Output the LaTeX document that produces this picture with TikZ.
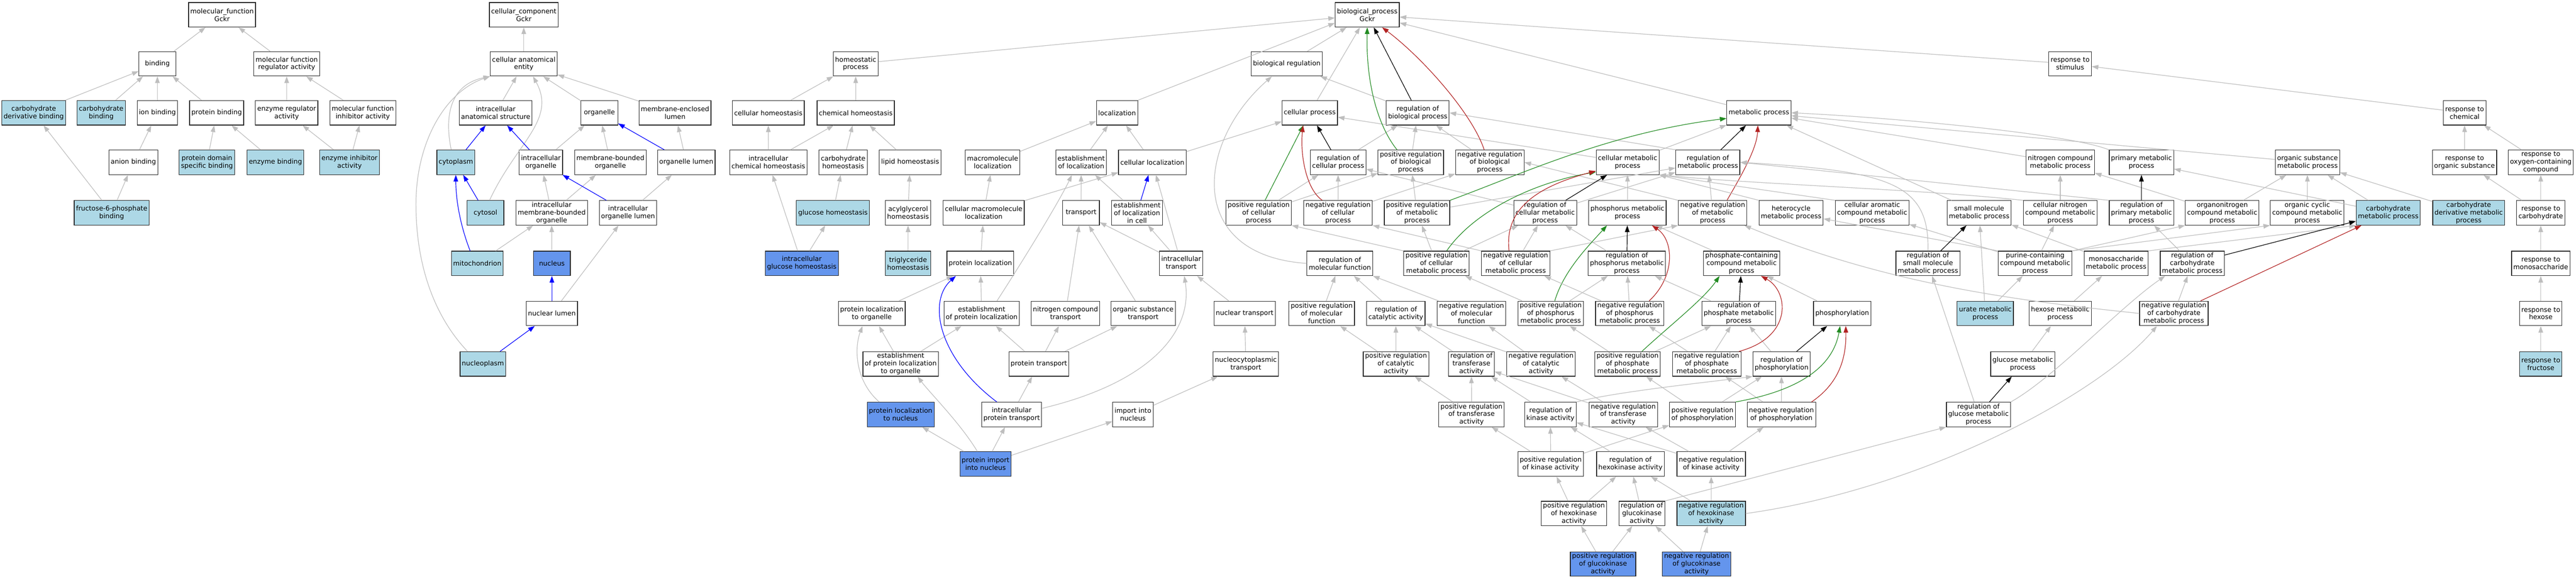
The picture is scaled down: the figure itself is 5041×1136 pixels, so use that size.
\documentclass[tikz,border=0pt]{standalone}
\usepackage{fontspec}
\setmainfont{DejaVu Sans}
\usetikzlibrary{arrows.meta}
\definecolor{hitblue}{RGB}{173,216,230}
\definecolor{seedblue}{RGB}{100,149,237}
\definecolor{isagrey}{RGB}{190,190,190}
\definecolor{posgreen}{RGB}{34,139,34}
\definecolor{negred}{RGB}{178,34,34}
\tikzstyle{termnode}=[draw=black!85, line width=1.2pt, fill=white, rectangle,
					align=center, minimum width=72pt, minimum height=48pt,
					inner xsep=3.5pt, inner ysep=1pt, font=\fontsize{13}{15}\selectfont]

\begin{document}
\begin{tikzpicture}[x=1pt, y=-1pt,
 hitnode/.style={termnode, fill=hitblue},
 seednode/.style={termnode, fill=seedblue},
 isaline/.style={draw=isagrey, line width=1.2pt, -{Triangle[length=13pt, width=9pt]}},
 partline/.style={isaline, draw=blue},
 regline/.style={isaline, draw=black},
 posline/.style={isaline, draw=posgreen},
 negline/.style={isaline, draw=negred},
 ]
 \fill[white] (0,0) rectangle (5041,1136);
 \useasboundingbox (0,0) rectangle (5041,1136);

 %Nodes - molecular function
 \node[termnode] (mf_node)     at (434.5,29)  {molecular\_function\\Gckr};
 \node[termnode] (binding_node) at (308,125)  {binding};
 \node[termnode] (mfra_node)   at (561,125)   {molecular function\\regulator activity};
 \node[hitnode]  (cdb_node)    at (66,221)    {carbohydrate\\derivative binding};
 \node[hitnode]  (cb_node)     at (198,221)   {carbohydrate\\binding};
 \node[termnode] (ionb_node)   at (308,221)   {ion binding};
 \node[termnode] (pb_node)     at (424,221)   {protein binding};
 \node[termnode] (era_node)    at (561,221)   {enzyme regulator\\activity};
 \node[termnode] (mfia_node)   at (710,221)   {molecular function\\inhibitor activity};
 \node[termnode] (anionb_node) at (261,318)   {anion binding};
 \node[hitnode]  (pdsb_node)   at (405,318)   {protein domain\\specific binding};
 \node[hitnode]  (eb_node)     at (539,318)   {enzyme binding};
 \node[hitnode]  (eia_node)    at (684,318)   {enzyme inhibitor\\activity};
 \node[hitnode]  (f6pb_node)   at (218.5,417) {fructose-6-phosphate\\binding};

 %Nodes - cellular component
 \node[termnode] (cc_node)          at (1025,29)    {cellular\_component\\Gckr};
 \node[termnode] (cae_node)         at (1025,125)   {cellular anatomical\\entity};
 \node[termnode] (ias_node)         at (970,221)    {intracellular\\anatomical structure};
 \node[termnode] (organelle_node)   at (1173,221)   {organelle};
 \node[termnode] (mel_node)         at (1321,221)   {membrane-enclosed\\lumen};
 \node[hitnode]  (cytoplasm_node)   at (892,318)    {cytoplasm};
 \node[termnode] (io_node)          at (1058.5,318) {intracellular\\organelle};
 \node[termnode] (mbo_node)         at (1194.5,318) {membrane-bounded\\organelle};
 \node[termnode] (ol_node)          at (1343,318)   {organelle lumen};
 \node[hitnode]  (cytosol_node)     at (950,417)    {cytosol};
 \node[termnode] (imbo_node)        at (1079.5,417) {intracellular\\membrane-bounded\\organelle};
 \node[termnode] (iol_node)         at (1229,417)   {intracellular\\organelle lumen};
 \node[hitnode]  (mito_node)        at (934,516)    {mitochondrion};
 \node[seednode] (nucleus_node)     at (1080,516)   {nucleus};
 \node[termnode] (nl_node)          at (1080,614)   {nuclear lumen};
 \node[hitnode]  (nucleoplasm_node) at (945,713)    {nucleoplasm};

 %Nodes - homeostasis
 \node[termnode] (hp_node)    at (1674.5,125) {homeostatic\\process};
 \node[termnode] (ch_node)    at (1503.5,221) {cellular homeostasis};
 \node[termnode] (chemh_node) at (1674.6,221) {chemical homeostasis};
 \node[termnode] (ich_node)   at (1503.6,318) {intracellular\\chemical homeostasis};
 \node[termnode] (carbh_node) at (1650,318)   {carbohydrate\\homeostasis};
 \node[termnode] (lh_node)    at (1781,318)   {lipid homeostasis};
 \node[hitnode]  (gh_node)    at (1630,417)   {glucose homeostasis};
 \node[termnode] (ah_node)    at (1777,417)   {acylglycerol\\homeostasis};
 \node[seednode] (igh_node)   at (1569,516)   {intracellular\\glucose homeostasis};
 \node[hitnode]  (th_node)    at (1777,516)   {triglyceride\\homeostasis};

 %Nodes - localization
 \node[termnode] (loc_node)       at (2186,221)    {localization};
 \node[termnode] (ml_node)        at (1942.5,318)  {macromolecule\\localization};
 \node[termnode] (eol_node)       at (2115.7,318)  {establishment\\of localization};
 \node[termnode] (cl_node)        at (2255,318)    {cellular localization};
 \node[termnode] (cml_node)       at (1925,417)    {cellular macromolecule\\localization};
 \node[termnode] (transport_node) at (2115.5,417)  {transport};
 \node[termnode] (eslic_node)     at (2225,417)    {establishment\\of localization\\in cell};
 \node[termnode] (pl_node)        at (1918.5,516)  {protein localization};
 \node[termnode] (it_node)        at (2311.5,516)  {intracellular\\transport};
 \node[termnode] (plo_node)       at (1706,614)    {protein localization\\to organelle};
 \node[termnode] (epl_node)       at (1921,614)    {establishment\\of protein localization};
 \node[termnode] (nct_node)       at (2085,614)    {nitrogen compound\\transport};
 \node[termnode] (ost_node)       at (2237,614)    {organic substance\\transport};
 \node[termnode] (nt_node)        at (2435.6,614)  {nuclear transport};
 \node[termnode] (eplo_node)      at (1762.5,713)  {establishment\\of protein localization\\to organelle};
 \node[termnode] (pt_node)        at (2033,713)    {protein transport};
 \node[termnode] (nctr_node)      at (2438,713)    {nucleocytoplasmic\\transport};
 \node[seednode] (pln_node)       at (1762.5,812)  {protein localization\\to nucleus};
 \node[termnode] (ipt_node)       at (1979.7,812)  {intracellular\\protein transport};
 \node[termnode] (iin_node)       at (2217,812)    {import into\\nucleus};
 \node[seednode] (pipn_node)      at (1928.6,909)  {protein import\\into nucleus};

 %Nodes - biological process
 \node[termnode] (bp_node)    at (2675.6,29)  {biological\_process\\Gckr};
 \node[termnode] (br_node)    at (2518,125)   {biological regulation};
 \node[termnode] (cp_node)    at (2563,221)   {cellular process};
 \node[termnode] (rbp_node)   at (2774.4,221) {regulation of\\biological process};
 \node[termnode] (rcp_node)   at (2618.6,318) {regulation of\\cellular process};
 \node[termnode] (prbp_node)  at (2760.8,318) {positive regulation\\of biological\\process};
 \node[termnode] (nrbp_node)  at (2915.4,318) {negative regulation\\of biological\\process};
 \node[termnode] (cmp_node)   at (3185,318)   {cellular metabolic\\process};
 \node[termnode] (rmp_node)   at (3342,318)   {regulation of\\metabolic process};
 \node[termnode] (prcp_node)  at (2463,417)   {positive regulation\\of cellular\\process};
 \node[termnode] (ncp_node)   at (2618.5,417) {negative regulation\\of cellular\\process};
 \node[termnode] (prmp_node)  at (2773,417)   {positive regulation\\of metabolic\\process};
 \node[termnode] (rcmp_node)  at (3023.7,417) {regulation of\\cellular metabolic\\process};
 \node[termnode] (pmp_node)   at (3184.7,417) {phosphorus metabolic\\process};
 \node[termnode] (nrmp_node)  at (3351.5,417) {negative regulation\\of metabolic\\process};
 \node[termnode] (rmf_node)   at (2622,516)   {regulation of\\molecular function};
 \node[termnode] (prcmp_node) at (2811,516)   {positive regulation\\of cellular\\metabolic process};
 \node[termnode] (ncmp_node)  at (2966,516)   {negative regulation\\of cellular\\metabolic process};
 \node[termnode] (rpmp_node)  at (3183.6,516) {regulation of\\phosphorus metabolic\\process};
 \node[termnode] (pcmp_node)  at (3408,516)   {phosphate-containing\\compound metabolic\\process};

 %Nodes - metabolic process and response
 \node[termnode] (mp_node)       at (3442,221)   {metabolic process};
 \node[termnode] (rs_node)       at (4051,125)   {response to\\stimulus};
 \node[termnode] (rc_node)       at (4823,221)   {response to\\chemical};
 \node[termnode] (ncomp_node)    at (4031.7,318) {nitrogen compound\\metabolic process};
 \node[termnode] (primp_node)    at (4190.6,318) {primary metabolic\\process};
 \node[termnode] (osmp_node)     at (4515.5,318) {organic substance\\metabolic process};
 \node[termnode] (ros_node)      at (4822.8,318) {response to\\organic substance};
 \node[termnode] (rocc_node)     at (4972,318)   {response to\\oxygen-containing\\compound};
 \node[termnode] (hmp_node)      at (3505,417)   {heterocycle\\metabolic process};
 \node[termnode] (camp_node)     at (3663.7,417) {cellular aromatic\\compound metabolic\\process};
 \node[termnode] (smmp_node)     at (3873,417)   {small molecule\\metabolic process};
 \node[termnode] (cncmp_node)    at (4031.7,417) {cellular nitrogen\\compound metabolic\\process};
 \node[termnode] (rprimp_node)   at (4190.6,417) {regulation of\\primary metabolic\\process};
 \node[termnode] (oncmp_node)    at (4348.7,417) {organonitrogen\\compound metabolic\\process};
 \node[termnode] (occmp_node)    at (4515,417)   {organic cyclic\\compound metabolic\\process};
 \node[hitnode]  (carbmp_node)   at (4673.5,417) {carbohydrate\\metabolic process};
 \node[hitnode]  (cdmp_node)     at (4831,417)   {carbohydrate\\derivative metabolic\\process};
 \node[termnode] (rcarb_node)    at (4972,417)   {response to\\carbohydrate};
 \node[termnode] (rsmmp_node)    at (3772.8,516) {regulation of\\small molecule\\metabolic process};
 \node[termnode] (pccmp_node)    at (3982.6,516) {purine-containing\\compound metabolic\\process};
 \node[termnode] (msmp_node)     at (4141,516)   {monosaccharide\\metabolic process};
 \node[termnode] (rcarbmp_node)  at (4290,516)   {regulation of\\carbohydrate\\metabolic process};
 \node[termnode] (rmono_node)    at (4972,516)   {response to\\monosaccharide};
 \node[hitnode]  (urate_node)    at (3885,614)   {urate metabolic\\process};
 \node[termnode] (hexmp_node)    at (4031.6,614) {hexose metabolic\\process};
 \node[termnode] (nrcarbmp_node) at (4254,614)   {negative regulation\\of carbohydrate\\metabolic process};
 \node[termnode] (rhex_node)     at (4972,614)   {response to\\hexose};
 \node[termnode] (gmp_node)      at (3958.3,713) {glucose metabolic\\process};
 \node[hitnode]  (rfru_node)     at (4972,713)   {response to\\fructose};
 \node[termnode] (rgmp_node)     at (3871.6,812) {regulation of\\glucose metabolic\\process};

 %Nodes - regulation of activity
 \node[termnode] (prmf_node)  at (2586.4,614) {positive regulation\\of molecular\\function};
 \node[termnode] (rca_node)   at (2731.5,614) {regulation of\\catalytic activity};
 \node[termnode] (nrmf_node)  at (2879.7,614) {negative regulation\\of molecular\\function};
 \node[termnode] (ppmp_node)  at (3034.5,614) {positive regulation\\of phosphorus\\metabolic process};
 \node[termnode] (npmp_node)  at (3189.3,614) {negative regulation\\of phosphorus\\metabolic process};
 \node[termnode] (rphmp_node) at (3402.5,614) {regulation of\\phosphate metabolic\\process};
 \node[termnode] (phos_node)  at (3605,614)   {phosphorylation};
 \node[termnode] (prca_node)  at (2731.8,713) {positive regulation\\of catalytic\\activity};
 \node[termnode] (rta_node)   at (2879.4,713) {regulation of\\transferase\\activity};
 \node[termnode] (nrca_node)  at (3015.7,713) {negative regulation\\of catalytic\\activity};
 \node[termnode] (pphmp_node) at (3185,713)   {positive regulation\\of phosphate\\metabolic process};
 \node[termnode] (nphmp_node) at (3340,713)   {negative regulation\\of phosphate\\metabolic process};
 \node[termnode] (rphos_node) at (3486.3,713) {regulation of\\phosphorylation};
 \node[termnode] (prta_node)  at (2879.7,812) {positive regulation\\of transferase\\activity};
 \node[termnode] (rka_node)   at (3034,812)   {regulation of\\kinase activity};
 \node[termnode] (nrta_node)  at (3176.6,812) {negative regulation\\of transferase\\activity};
 \node[termnode] (pphos_node) at (3331.5,812) {positive regulation\\of phosphorylation};
 \node[termnode] (nphos_node) at (3486,812)   {negative regulation\\of phosphorylation};
 \node[termnode] (prka_node)  at (3034.5,909) {positive regulation\\of kinase activity};
 \node[termnode] (rhka_node)  at (3190.6,909) {regulation of\\hexokinase activity};
 \node[termnode] (nrka_node)  at (3348.7,909) {negative regulation\\of kinase activity};
 \node[termnode] (prhka_node) at (3080,1006)  {positive regulation\\of hexokinase\\activity};
 \node[termnode] (rgka_node)  at (3213,1006)  {regulation of\\glucokinase\\activity};
 \node[hitnode]  (nrhka_node) at (3348.7,1006) {negative regulation\\of hexokinase\\activity};
 \node[seednode] (pgka_node)  at (3137,1105)  {positive regulation\\of glucokinase\\activity};
 \node[seednode] (ngka_node)  at (3320,1105)  {negative regulation\\of glucokinase\\activity};

 %Lines - molecular function
 \draw[isaline] (binding_node) -- (mf_node);
 \draw[isaline] (mfra_node) -- (mf_node);
 \draw[isaline] (cdb_node) -- (binding_node);
 \draw[isaline] (cb_node) -- (binding_node);
 \draw[isaline] (ionb_node) -- (binding_node);
 \draw[isaline] (pb_node) -- (binding_node);
 \draw[isaline] (era_node) -- (mfra_node);
 \draw[isaline] (mfia_node) -- (mfra_node);
 \draw[isaline] (anionb_node) -- (ionb_node);
 \draw[isaline] (pdsb_node) -- (pb_node);
 \draw[isaline] (eb_node) -- (pb_node);
 \draw[isaline] (eia_node) -- (era_node);
 \draw[isaline] (eia_node) -- (mfia_node);
 \draw[isaline] (f6pb_node) -- (cdb_node);
 \draw[isaline] (f6pb_node) -- (anionb_node);

 %Lines - cellular component
 \draw[isaline] (cae_node) -- (cc_node);
 \draw[isaline] (ias_node) -- (cae_node);
 \draw[isaline] (organelle_node) -- (cae_node);
 \draw[isaline] (mel_node) -- (cae_node);
 \draw[isaline] (io_node) -- (organelle_node);
 \draw[isaline] (mbo_node) -- (organelle_node);
 \draw[isaline] (ol_node) -- (mel_node);
 \draw[isaline] (imbo_node) -- (io_node);
 \draw[isaline] (imbo_node) -- (mbo_node);
 \draw[isaline] (iol_node) -- (ol_node);
 \draw[isaline] (mito_node) -- (imbo_node);
 \draw[isaline] (nucleus_node) -- (imbo_node);
 \draw[isaline] (nl_node) -- (iol_node);
 \draw[isaline] ([xshift=-9pt]cytoplasm_node.north) .. controls (868,220) and (885,165) .. (cae_node.south west);
 \draw[isaline] ([xshift=8pt]cytosol_node.north) .. controls (1010,280) and (1090,235) .. ([xshift=18pt]cae_node.south);
 \draw[isaline] ([xshift=-30pt]nucleoplasm_node.north) .. controls (850,620) and (814,520) .. (814,400)
   .. controls (814,280) and (870,180) .. (cae_node.south west);
 \draw[partline] (cytoplasm_node) -- (ias_node);
 \draw[partline] (io_node) -- (ias_node);
 \draw[partline] (ol_node) -- (organelle_node);
 \draw[partline] (cytosol_node) -- (cytoplasm_node);
 \draw[partline] (iol_node) -- (io_node);
 \draw[partline] (nl_node) -- (nucleus_node);
 \draw[partline] (nucleoplasm_node) -- (nl_node);
 \draw[partline] ([xshift=-14pt]mito_node.north) .. controls (900,440) and (892,390) .. (cytoplasm_node.south);

 %Lines - homeostasis
 \draw[isaline] (hp_node) -- (bp_node);
 \draw[isaline] (ch_node) -- (hp_node);
 \draw[isaline] (chemh_node) -- (hp_node);
 \draw[isaline] (ich_node) -- (ch_node);
 \draw[isaline] (ich_node) -- (chemh_node);
 \draw[isaline] (carbh_node) -- (chemh_node);
 \draw[isaline] (lh_node) -- (chemh_node);
 \draw[isaline] (gh_node) -- (carbh_node);
 \draw[isaline] (ah_node) -- (lh_node);
 \draw[isaline] (igh_node) -- (ich_node);
 \draw[isaline] (igh_node) -- (gh_node);
 \draw[isaline] (th_node) -- (ah_node);

 %Lines - localization
 \draw[isaline] (loc_node.north east) -- ([yshift=-16pt]bp_node.west);
 \draw[isaline] (ml_node) -- (loc_node);
 \draw[isaline] (eol_node) -- (loc_node);
 \draw[isaline] (cl_node) -- (loc_node);
 \draw[isaline] (cl_node) -- (cp_node);
 \draw[isaline] (cml_node) -- (ml_node);
 \draw[isaline] (cml_node) -- (cl_node);
 \draw[isaline] (transport_node) -- (eol_node);
 \draw[isaline] (eslic_node) -- (eol_node);
 \draw[isaline] (pl_node) -- (cml_node);
 \draw[isaline] (it_node) -- (transport_node);
 \draw[isaline] (it_node) -- (eslic_node);
 \draw[isaline] (it_node) -- (cl_node);
 \draw[isaline] (plo_node) -- (pl_node);
 \draw[isaline] (epl_node) -- (pl_node);
 \draw[isaline] (nct_node) -- (transport_node);
 \draw[isaline] (ost_node) -- (transport_node);
 \draw[isaline] (nt_node) -- (it_node);
 \draw[isaline] (eplo_node) -- (plo_node);
 \draw[isaline] (eplo_node) -- (epl_node);
 \draw[isaline] (pt_node) -- (epl_node);
 \draw[isaline] (pt_node) -- (nct_node);
 \draw[isaline] (pt_node) -- (ost_node);
 \draw[isaline] (nctr_node) -- (nt_node);
 \draw[isaline] (ipt_node) -- (pt_node);
 \draw[isaline] (iin_node) -- (nctr_node);
 \draw[isaline] (pipn_node) -- (pln_node);
 \draw[isaline] (pipn_node) -- (ipt_node);
 \draw[isaline] (pipn_node) -- (iin_node);
 \draw[isaline] ([xshift=30pt]epl_node.north) .. controls (2015,490) and (2075,390) .. ([xshift=-18pt]eol_node.south);
 \draw[isaline] ([xshift=-42pt]pln_node.north) .. controls (1672,745) and (1672,680) .. ([xshift=-18pt]plo_node.south);
 \draw[isaline] ([yshift=12pt]ipt_node.east) .. controls (2250,750) and (2335,650) .. ([xshift=6pt]it_node.south);
 \draw[isaline] ([xshift=-16pt]pipn_node.north) .. controls (1880,830) and (1820,770) .. ([xshift=33pt]eplo_node.south);
 \draw[partline] (eslic_node) -- (cl_node);
 \draw[partline] ([xshift=-29pt]ipt_node.north) .. controls (1835,700) and (1815,590) .. ([xshift=-48pt]pl_node.south);

 %Lines - biological process
 \draw[isaline] (br_node) -- (bp_node);
 \draw[isaline] (cp_node) -- (bp_node);
 \draw[isaline] (rbp_node) -- (br_node);
 \draw[isaline] (rs_node) -- (bp_node);
 \draw[isaline] (mp_node) -- (bp_node);
 \draw[isaline] (rcp_node) -- (rbp_node);
 \draw[isaline] (prbp_node) -- (rbp_node);
 \draw[isaline] (nrbp_node) -- (rbp_node);
 \draw[isaline] (cmp_node) -- (cp_node);
 \draw[isaline] (cmp_node) -- (mp_node);
 \draw[isaline] (rmp_node.north west) -- (rbp_node.east);
 \draw[isaline] (prcp_node) -- (rcp_node);
 \draw[isaline] (prcp_node) -- (prbp_node);
 \draw[isaline] (ncp_node) -- (rcp_node);
 \draw[isaline] (ncp_node) -- (nrbp_node);
 \draw[isaline] (prmp_node) -- (prbp_node);
 \draw[isaline] (prmp_node) -- (rmp_node);
 \draw[isaline] (rcmp_node) -- (rcp_node);
 \draw[isaline] (rcmp_node) -- (rmp_node);
 \draw[isaline] (pmp_node) -- (cmp_node);
 \draw[isaline] (nrmp_node) -- (rmp_node);
 \draw[isaline] (nrmp_node.north west) -- (nrbp_node.east);
 \draw[isaline] (prcmp_node) -- (prmp_node);
 \draw[isaline] (prcmp_node) -- (rcmp_node);
 \draw[isaline] (prcmp_node.north west) -- (prcp_node.south east);
 \draw[isaline] (ncmp_node.north west) -- (ncp_node.south east);
 \draw[isaline] (ncmp_node) -- (rcmp_node);
 \draw[isaline] (ncmp_node.north east) -- (nrmp_node.south west);
 \draw[isaline] (rpmp_node) -- (rcmp_node);
 \draw[isaline] (pcmp_node) -- (pmp_node);
 \draw[isaline] (rmf_node.west) .. controls (2320,500) and (2340,280) .. ([xshift=-29pt]br_node.south);
 \draw[regline] (rbp_node) -- (bp_node);
 \draw[regline] (rcp_node) -- (cp_node);
 \draw[regline] (rmp_node) -- (mp_node);
 \draw[regline] (rcmp_node) -- (cmp_node);
 \draw[regline] (rpmp_node) -- (pmp_node);
 \draw[posline] ([xshift=-27pt]prbp_node.north) .. controls (2695,245) and (2673,160) .. (bp_node.south);
 \draw[posline] (prcp_node) -- (cp_node);
 \draw[posline] (prmp_node.north east) .. controls (2980,340) and (3150,260) .. ([yshift=-11pt]mp_node.west);
 \draw[posline] ([xshift=20pt]prcmp_node.north) .. controls (2880,420) and (2990,360) .. ([yshift=-19pt]cmp_node.west);
 \draw[posline] ([xshift=8pt]ppmp_node.north) .. controls (3060,530) and (3110,480) .. ([xshift=-40pt]pmp_node.south);
 \draw[negline] ([xshift=-11pt]nrbp_node.north) .. controls (2880,220) and (2780,110) .. ([xshift=29pt]bp_node.south);
 \draw[negline] ([xshift=-31pt]ncp_node.north) .. controls (2555,370) and (2544,300) .. ([xshift=-13pt]cp_node.south);
 \draw[negline] ([xshift=28pt]nrmp_node.north) .. controls (3410,340) and (3438,290) .. ([xshift=-2pt]mp_node.south);
 \draw[negline] ([xshift=-13pt]ncmp_node.north) .. controls (2945,420) and (2990,370) .. ([yshift=-17pt]cmp_node.west);
 \draw[negline] ([xshift=38pt]npmp_node.north) .. controls (3280,540) and (3275,470) .. ([xshift=48pt]pmp_node.south);

 %Lines - metabolic process and response
 \draw[isaline] (ncomp_node) -- (mp_node);
 \draw[isaline] (primp_node.north west) .. controls (4050,262) and (3700,230) .. (mp_node.east);
 \draw[isaline] (osmp_node) -- (mp_node);
 \draw[isaline] (smmp_node) -- (mp_node);
 \draw[isaline] (rc_node) -- (rs_node);
 \draw[isaline] (ros_node) -- (rc_node);
 \draw[isaline] (rocc_node) -- (rc_node);
 \draw[isaline] (hmp_node.north west) -- (cmp_node.south east);
 \draw[isaline] (camp_node.north west) -- (cmp_node.south east);
 \draw[isaline] (cncmp_node.north west) .. controls (3750,370) and (3450,362) .. (cmp_node.south east);
 \draw[isaline] (cncmp_node) -- (ncomp_node);
 \draw[isaline] (rprimp_node.north west) -- (rmp_node.east);
 \draw[isaline] (rsmmp_node.north) .. controls (3776,360) and (3700,335) .. (rmp_node.east);
 \draw[isaline] (oncmp_node) -- (ncomp_node);
 \draw[isaline] (oncmp_node) -- (osmp_node);
 \draw[isaline] (occmp_node) -- (osmp_node);
 \draw[isaline] (carbmp_node) -- (osmp_node);
 \draw[isaline] (carbmp_node) -- (primp_node);
 \draw[isaline] (cdmp_node) -- (osmp_node);
 \draw[isaline] (rcarb_node) -- (ros_node);
 \draw[isaline] (rcarb_node) -- (rocc_node);
 \draw[isaline] (rmono_node) -- (rcarb_node);
 \draw[isaline] (pccmp_node.north west) -- (hmp_node);
 \draw[isaline] (pccmp_node) -- (camp_node);
 \draw[isaline] (pccmp_node) -- (cncmp_node);
 \draw[isaline] (pccmp_node.north east) -- (oncmp_node.south west);
 \draw[isaline] (pccmp_node.north east) -- (occmp_node.south west);
 \draw[isaline] (msmp_node) -- (smmp_node);
 \draw[isaline] (msmp_node.north east) -- (carbmp_node.south west);
 \draw[isaline] (rcarbmp_node) -- (rprimp_node);
 \draw[isaline] (rhex_node) -- (rmono_node);
 \draw[isaline] (rfru_node) -- (rhex_node);
 \draw[isaline] (urate_node) -- (smmp_node);
 \draw[isaline] (urate_node) -- (pccmp_node);
 \draw[isaline] (hexmp_node) -- (msmp_node);
 \draw[isaline] (gmp_node) -- (hexmp_node);
 \draw[isaline] (nrcarbmp_node) -- (rcarbmp_node);
 \draw[isaline] (nrcarbmp_node.west) .. controls (3960,590) and (3700,560) .. ([xshift=62pt]nrmp_node.south);
 \draw[isaline] (rgmp_node) -- (rsmmp_node);
 \draw[isaline] (rgmp_node.north east) .. controls (4020,740) and (4150,600) .. ([xshift=-53pt]rcarbmp_node.south);
 \draw[isaline] (nrhka_node.east) .. controls (3750,960) and (4100,780) .. ([xshift=-33pt]nrcarbmp_node.south);
 \draw[isaline] (rgka_node.north east) -- (rgmp_node.south west);
 \draw[regline] (rprimp_node) -- (primp_node);
 \draw[regline] (rsmmp_node) -- (smmp_node);
 \draw[regline] (rcarbmp_node) -- (carbmp_node);
 \draw[regline] (rgmp_node) -- (gmp_node);
 \draw[negline] (nrcarbmp_node) -- (carbmp_node);

 %Lines - regulation of activity
 \draw[isaline] (prmf_node) -- (rmf_node);
 \draw[isaline] (rca_node) -- (rmf_node);
 \draw[isaline] (nrmf_node) -- (rmf_node);
 \draw[isaline] (ppmp_node) -- (prcmp_node);
 \draw[isaline] (ppmp_node) -- (rpmp_node);
 \draw[isaline] (npmp_node) -- (ncmp_node);
 \draw[isaline] (npmp_node) -- (rpmp_node);
 \draw[isaline] (rphmp_node) -- (rpmp_node);
 \draw[isaline] (phos_node) -- (pcmp_node);
 \draw[isaline] (prca_node) -- (rca_node);
 \draw[isaline] (prca_node) -- (prmf_node);
 \draw[isaline] (rta_node) -- (rca_node);
 \draw[isaline] (nrca_node) -- (rca_node);
 \draw[isaline] (nrca_node) -- (nrmf_node);
 \draw[isaline] (pphmp_node) -- (ppmp_node);
 \draw[isaline] (pphmp_node) -- (rphmp_node);
 \draw[isaline] (nphmp_node) -- (npmp_node);
 \draw[isaline] (nphmp_node) -- (rphmp_node);
 \draw[isaline] (rphos_node) -- (rphmp_node);
 \draw[isaline] (prta_node) -- (prca_node);
 \draw[isaline] (prta_node) -- (rta_node);
 \draw[isaline] (rka_node) -- (rta_node);
 \draw[isaline] (rka_node.north east) .. controls (3160,768) and (3330,750) .. (rphos_node.south west);
 \draw[isaline] (nrta_node) -- (rta_node);
 \draw[isaline] (nrta_node) -- (nrca_node);
 \draw[isaline] (pphos_node) -- (pphmp_node);
 \draw[isaline] (pphos_node) -- (rphos_node);
 \draw[isaline] (nphos_node) -- (nphmp_node);
 \draw[isaline] (nphos_node) -- (rphos_node);
 \draw[isaline] (prka_node) -- (prta_node);
 \draw[isaline] (prka_node) -- (rka_node);
 \draw[isaline] (prka_node) -- (pphos_node);
 \draw[isaline] (rhka_node) -- (rka_node);
 \draw[isaline] (nrka_node) -- (rka_node);
 \draw[isaline] (nrka_node) -- (nrta_node);
 \draw[isaline] (nrka_node) -- (nphos_node);
 \draw[isaline] (prhka_node) -- (prka_node);
 \draw[isaline] (prhka_node) -- (rhka_node);
 \draw[isaline] (rgka_node) -- (rhka_node);
 \draw[isaline] (nrhka_node) -- (rhka_node);
 \draw[isaline] (nrhka_node) -- (nrka_node);
 \draw[isaline] (pgka_node) -- (prhka_node);
 \draw[isaline] (pgka_node) -- (rgka_node);
 \draw[isaline] (ngka_node) -- (rgka_node);
 \draw[isaline] (ngka_node) -- (nrhka_node);
 \draw[regline] (rphmp_node) -- (pcmp_node);
 \draw[regline] (rphos_node) -- (phos_node);
 \draw[posline] ([xshift=28pt]pphmp_node.north) .. controls (3265,640) and (3335,585) .. ([xshift=-43pt]pcmp_node.south);
 \draw[posline] (pphos_node.north east) .. controls (3550,760) and (3590,700) .. ([xshift=-4pt]phos_node.south);
 \draw[negline] ([xshift=63pt]nphmp_node.north) .. controls (3510,660) and (3500,570) .. ([xshift=38pt]pcmp_node.south);
 \draw[negline] ([xshift=59pt]nphos_node.north) .. controls (3600,750) and (3613,700) .. ([xshift=7pt]phos_node.south);
\end{tikzpicture}
\end{document}
